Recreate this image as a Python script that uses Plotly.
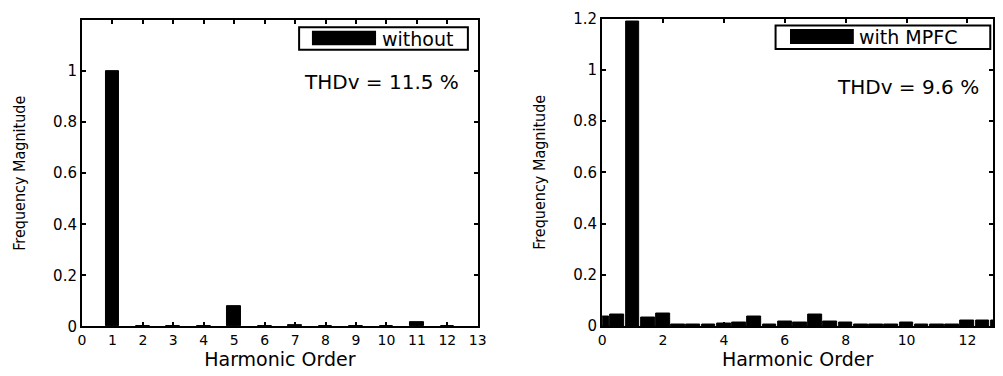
import plotly.graph_objects as go

# ---- data ----
left_orders = [1, 2, 3, 4, 5, 6, 7, 8, 9, 10, 11, 12]
left_mag = [1.0, 0.0, 0.0, 0.0, 0.078, 0.0, 0.005, 0.0, 0.0, 0.0, 0.016, 0.0]

right_orders = [0, 0.5, 1, 1.5, 2, 2.5, 3, 3.5, 4, 4.5, 5, 5.5, 6, 6.5, 7, 7.5,
                8, 8.5, 9, 9.5, 10, 10.5, 11, 11.5, 12, 12.5, 13]
right_mag = [0.038, 0.046, 1.19, 0.035, 0.048, 0.007, 0.007, 0.007, 0.011, 0.012,
             0.038, 0.007, 0.016, 0.012, 0.046, 0.016, 0.013, 0.007, 0.007, 0.005,
             0.012, 0.007, 0.005, 0.007, 0.02, 0.02, 0.02]

left_name = "without"
right_name = "with MPFC"
left_thd = "THDv = 11.5 %"
right_thd = "THDv = 9.6 %"
x_title = "Harmonic Order"
y_title = "Frequency Magnitude"
left_xticks = list(range(0, 14))
right_xticks = list(range(0, 13, 2))
left_yticks = [0, 0.2, 0.4, 0.6, 0.8, 1]
right_yticks = [0, 0.2, 0.4, 0.6, 0.8, 1, 1.2]

W, H = 1003, 376
FONT = "DejaVu Sans"
NARROW = "Liberation Sans Narrow, DejaVu Sans Condensed, Liberation Sans, Arial"

fig = go.Figure()
fig.add_trace(go.Bar(x=left_orders, y=left_mag, width=0.45, name=left_name,
                     marker=dict(color="black", line=dict(color="black", width=1)),
                     xaxis="x", yaxis="y", showlegend=False))
fig.add_trace(go.Bar(x=right_orders, y=right_mag, width=0.45, name=right_name,
                     marker=dict(color="black", line=dict(color="black", width=1)),
                     xaxis="x2", yaxis="y2", showlegend=False))

def px_x(p):
    return p / W

def px_y(p):
    return 1 - p / H

axis_common = dict(showline=True, linecolor="black", linewidth=2, mirror="allticks",
                   ticks="inside", ticklen=4, tickwidth=2, tickcolor="black",
                   showgrid=False, zeroline=False,
                   tickfont=dict(family=FONT, size=14, color="black"))

fig.update_layout(
    width=W, height=H, margin=dict(l=0, r=0, t=0, b=0),
    plot_bgcolor="white", paper_bgcolor="white", bargap=0,
    xaxis=dict(domain=[px_x(79), px_x(480)], range=[0, 13], tickvals=left_xticks,
               anchor="y", title=dict(text=x_title, standoff=6,
                                      font=dict(family=FONT, size=19, color="black")),
               **axis_common),
    yaxis=dict(domain=[px_y(333.3), px_y(11.7)], range=[0, 1.2], tickvals=left_yticks,
               ticktext=["0", "0.2", "0.4", "0.6", "0.8", "1"], anchor="x",
               title=dict(text=y_title, standoff=24,
                          font=dict(family=NARROW, size=16, color="black")),
               **{**axis_common, "tickfont": dict(family=FONT, size=15, color="black")}),
    xaxis2=dict(domain=[px_x(606), px_x(1002)], range=[0, 12.84], tickvals=right_xticks,
                anchor="y2", title=dict(text=x_title, standoff=6,
                                        font=dict(family=FONT, size=19, color="black")),
                **axis_common),
    yaxis2=dict(domain=[px_y(333), px_y(10)], range=[0, 1.2], tickvals=right_yticks,
                ticktext=["0", "0.2", "0.4", "0.6", "0.8", "1", "1.2"], anchor="x2",
                title=dict(text=y_title, standoff=24,
                           font=dict(family=NARROW, size=16, color="black")),
                **{**axis_common, "tickfont": dict(family=FONT, size=15, color="black")}),
)

# manual legends (box + wide swatch + label) in axis-domain coordinates
def add_legend(xr, yr, box, swatch, text_x, text_y, label):
    fig.add_shape(type="rect", xref=xr, yref=yr, x0=box[0], x1=box[1], y0=box[2], y1=box[3],
                  line=dict(color="black", width=2), fillcolor="white", layer="above")
    fig.add_shape(type="rect", xref=xr, yref=yr, x0=swatch[0], x1=swatch[1],
                  y0=swatch[2], y1=swatch[3], line=dict(width=0), fillcolor="black",
                  layer="above")
    fig.add_annotation(xref=xr, yref=yr, x=text_x, y=text_y, text=label, showarrow=False,
                       xanchor="left", yanchor="middle",
                       font=dict(family=FONT, size=19, color="black"))

add_legend("x domain", "y domain", (0.5486, 0.975, 0.903, 0.977),
           (0.581, 0.743, 0.918, 0.965), 0.752, 0.940, left_name)
add_legend("x2 domain", "y2 domain", (0.4437, 0.993, 0.901, 0.977),
           (0.4806, 0.6439, 0.917, 0.966), 0.652, 0.941, right_name)

fig.add_annotation(xref="x domain", yref="y domain", x=0.757, y=0.797, text=left_thd,
                   showarrow=False, xanchor="center", yanchor="middle",
                   font=dict(family=FONT, size=20, color="black"))
fig.add_annotation(xref="x2 domain", yref="y2 domain", x=0.783, y=0.778, text=right_thd,
                   showarrow=False, xanchor="center", yanchor="middle",
                   font=dict(family=FONT, size=20, color="black"))

fig.write_html("out.html")
